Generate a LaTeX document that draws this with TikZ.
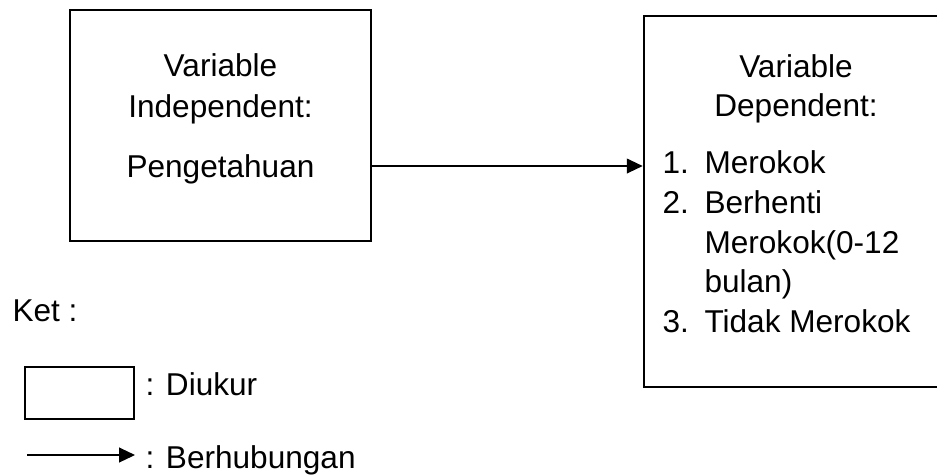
\documentclass[tikz,border=0pt]{standalone}
\usepackage{fontspec}
\setmainfont{Liberation Sans}
\usetikzlibrary{arrows.meta}
\usetikzlibrary{fit}

\begin{document}
\begin{tikzpicture}[
      , x=0.38pt, y=-0.38pt
      , varbox/.style={draw, line width=1pt, inner sep=0pt}
      , keybox/.style={draw, line width=0.8pt, inner sep=0pt}
      , lbl/.style={inner sep=0pt, anchor=base, font=\fontsize{12}{14}\selectfont}
      , lbl-w/.style={lbl, anchor=base west}
      , rel/.style={-{Triangle[length=6pt, width=5.6pt]}, line width=0.5pt}
      ]

      \useasboundingbox (0,0) rectangle (937,475);

      % the two variables
      \node[varbox, fit={(70,10) (371,241)}] (indep) {};
      \node[varbox, fit={(644,16) (948,387)}] (dep) {};

      \node[lbl] (indep-1) at (220.5,76) {Variable};
      \node[lbl] (indep-2) at (220.5,117) {Independent:};
      \node[lbl] (indep-3) at (220.5,177) {Pengetahuan};

      \node[lbl] (dep-1) at (796,77) {Variable};
      \node[lbl] (dep-2) at (796,116) {Dependent:};

      \node[lbl-w] (num-1) at (662,173) {1.};
      \node[lbl-w] (item-1) at (704,173) {Merokok};
      \node[lbl-w] (num-2) at (662,213) {2.};
      \node[lbl-w] (item-2) at (704,213) {Berhenti};
      \node[lbl-w] (item-2b) at (704,253) {Merokok(0-12};
      \node[lbl-w] (item-2c) at (704,292) {bulan)};
      \node[lbl-w] (num-3) at (662,332) {3.};
      \node[lbl-w] (item-3) at (704,332) {Tidak Merokok};

      \draw[rel] (indep.east |- 0,166) -- (dep.west |- 0,166);

      % keterangan
      \node[lbl-w] (ket) at (12,321) {Ket :};
      \node[keybox, fit={(25,367) (134,419)}] (key-box) {};
      \node[lbl-w] (key-diukur) at (145,395) {: Diukur};

      \coordinate (key-tail) at (27,455);
      \coordinate (key-head) at (135,455);
      \draw[rel] (key-tail) -- (key-head);
      \node[lbl-w] (key-rel) at (145,468) {: Berhubungan};
    \end{tikzpicture}
\end{document}
